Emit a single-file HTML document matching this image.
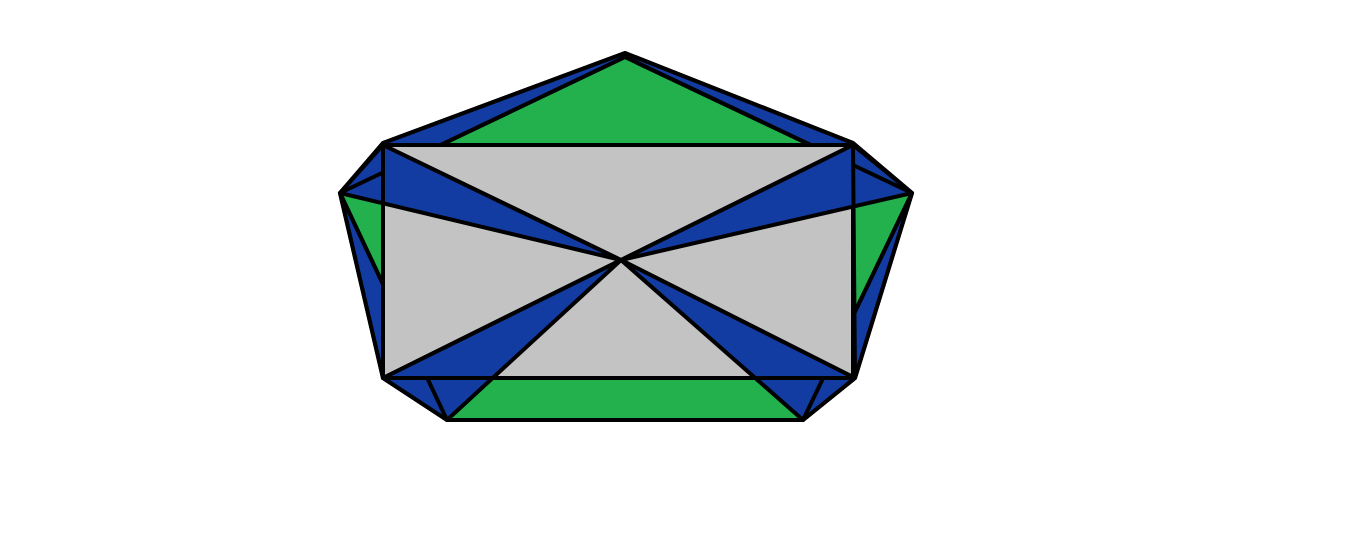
<!DOCTYPE html>
<html><head><meta charset="utf-8"><style>html,body{margin:0;padding:0;background:#fff;width:1349px;height:553px;overflow:hidden}</style></head>
<body>
<svg width="1349" height="553" viewBox="0 0 1349 553" xmlns="http://www.w3.org/2000/svg" stroke="#000" stroke-width="4" stroke-linejoin="round">
  <defs>
    <clipPath id="outsideRect">
      <path clip-rule="evenodd" d="M0,0 H1349 V553 H0 Z M383,145 H853 L855,378 H383 Z"/>
    </clipPath>
  </defs>
  <polygon fill="#133ca3" points="625,53 853,143 912,193 855,378 803,420 447,420 383,378 340,193 383,143"/>
  <polygon fill="#23b14d" points="625,57 912,193 803,420 447,420 340,193"/>
  <rect fill="#c3c3c3" x="383" y="145" width="470" height="233"/>
  <polygon fill="#133ca3" points="383,145 340,193 621,260"/>
  <polygon fill="#133ca3" points="853,145 912,193 621,260"/>
  <polygon fill="#133ca3" points="383,378 447,420 621,260"/>
  <polygon fill="#133ca3" points="855,378 803,420 621,260"/>
  <polygon fill="none" clip-path="url(#outsideRect)" points="625,57 912,193 803,420 447,420 340,193"/>
  <g fill="none">
    <line x1="383" y1="145" x2="621" y2="260"/>
    <line x1="853" y1="145" x2="621" y2="260"/>
    <line x1="383" y1="378" x2="621" y2="260"/>
    <line x1="855" y1="378" x2="621" y2="260"/>
    <line x1="383" y1="145" x2="383" y2="378"/>
    <line x1="853" y1="145" x2="855" y2="378"/>
    <line x1="383" y1="145" x2="853" y2="145"/>
    <line x1="383" y1="378" x2="855" y2="378"/>
  </g>
  <polygon fill="none" points="625,53 853,143 912,193 855,378 803,420 447,420 383,378 340,193 383,143"/>
</svg>
</body></html>
